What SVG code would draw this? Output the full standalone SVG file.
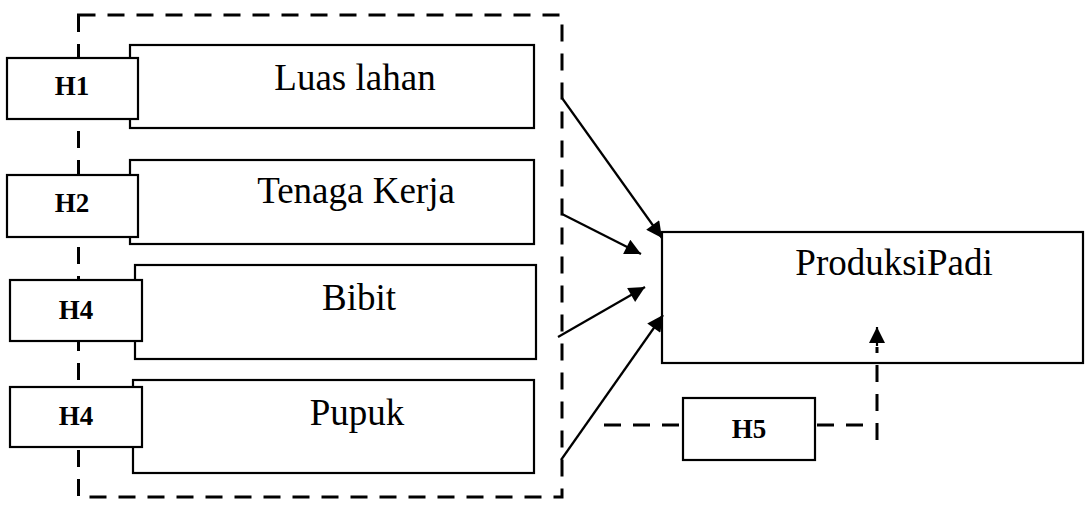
<svg xmlns="http://www.w3.org/2000/svg" width="1085" height="506" viewBox="0 0 1085 506">
<style>
.box{fill:#fff;stroke:#000;stroke-width:2.2}
.lbl{font-family:"Liberation Serif","Times New Roman",serif;font-size:37px;fill:#000;text-anchor:middle}
.h{font-family:"Liberation Serif","Times New Roman",serif;font-size:27px;font-weight:bold;fill:#000;text-anchor:middle}
.dash{fill:none;stroke:#000;stroke-width:3;stroke-dasharray:17 12}
.arr{fill:none;stroke:#000;stroke-width:2.2}
</style>
<defs>
<marker id="ah" viewBox="0 0 10 10" refX="10" refY="5" markerWidth="19" markerHeight="16" markerUnits="userSpaceOnUse" orient="auto">
<path d="M0,0 L10,5 L0,10 z" fill="#000"/>
</marker>
</defs>
<g id="frame">
<rect class="dash" x="78.5" y="15" width="483.5" height="482"/>
</g>
<g id="node-luas">
<rect class="box" x="130" y="45" width="404" height="83"/>
<text class="lbl" x="355" y="90">Luas lahan</text>
</g>
<g id="node-h1">
<rect class="box" x="7" y="58" width="131" height="61"/>
<text class="h" x="72" y="95">H1</text>
</g>
<g id="node-tenaga">
<rect class="box" x="130" y="160" width="404" height="84"/>
<text class="lbl" x="356" y="203">Tenaga Kerja</text>
</g>
<g id="node-h2">
<rect class="box" x="7" y="175" width="131" height="62"/>
<text class="h" x="72" y="212">H2</text>
</g>
<g id="node-bibit">
<rect class="box" x="135" y="265" width="401" height="94"/>
<text class="lbl" x="359" y="310">Bibit</text>
</g>
<g id="node-h4a">
<rect class="box" x="10" y="280" width="132" height="61"/>
<text class="h" x="76" y="319">H4</text>
</g>
<g id="node-pupuk">
<rect class="box" x="133" y="380" width="401" height="93"/>
<text class="lbl" x="357" y="425">Pupuk</text>
</g>
<g id="node-h4b">
<rect class="box" x="10" y="387" width="132" height="60"/>
<text class="h" x="76" y="425">H4</text>
</g>
<g id="node-produksi">
<rect class="box" x="662" y="232" width="421" height="131"/>
<text class="lbl" x="894" y="275">ProduksiPadi</text>
</g>
<g id="node-h5">
<rect class="box" x="683" y="398" width="132" height="62"/>
<text class="h" x="749" y="438">H5</text>
</g>
<g id="connectors">
<line class="arr" x1="562" y1="98" x2="662" y2="238" marker-end="url(#ah)"/>
<line class="arr" x1="562" y1="214" x2="641" y2="254" marker-end="url(#ah)"/>
<line class="arr" x1="558" y1="337" x2="645" y2="287" marker-end="url(#ah)"/>
<line class="arr" x1="561" y1="460" x2="663" y2="315" marker-end="url(#ah)"/>
<line class="dash" x1="604" y1="425" x2="683" y2="425"/>
<line class="dash" x1="817" y1="425" x2="872" y2="425"/>
<line class="dash" x1="877" y1="440" x2="877" y2="347" stroke-dasharray="18 10"/>
<line class="arr" x1="877" y1="346" x2="877" y2="327" stroke-width="3.5" marker-end="url(#ah)"/>
</g>
</svg>
